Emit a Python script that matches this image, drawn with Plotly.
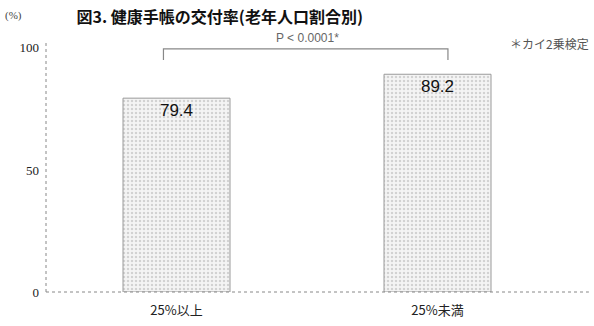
import plotly.graph_objects as go

categories = ["25%以上", "25%未満"]
values = [79.4, 89.2]
y_ticks = [0, 50, 100]
title_text = "図3. 健康手帳の交付率(老年人口割合別)"
p_text = "P < 0.0001*"
note_text = "＊カイ2乗検定"

fig = go.Figure()
fig.add_trace(go.Bar(
    x=categories, y=values,
    marker=dict(color="#f1f1f1",
                pattern=dict(shape=".", fgcolor="#b0b0b0", bgcolor="#f4f4f4", size=4, solidity=0.3),
                line=dict(color="#9a9a9a", width=1)),
    text=[f"{v:.1f}" for v in values],
    textposition="inside", insidetextanchor="end",
    textfont=dict(family="Liberation Sans, Arial", size=17, color="#111"),
    width=0.41,
))

fig.update_layout(
    width=594, height=326,
    margin=dict(l=46, r=26, t=43, b=34),
    paper_bgcolor="white", plot_bgcolor="white",
    showlegend=False,
    title=dict(text="<b>" + title_text + "</b>", x=0.37, xanchor="center", y=0.965, yanchor="top",
               font=dict(family="Noto Sans CJK JP", size=16, color="#111")),
    xaxis=dict(range=[-0.5, 1.5], showline=False, showgrid=False, ticks="", ticklabelstandoff=9,
               automargin=False,
               tickfont=dict(family="Noto Sans CJK JP", size=13, color="#222")),
    yaxis=dict(range=[0, 102], tickvals=y_ticks, showgrid=False, showline=False, zeroline=False,
               ticks="", ticklabelstandoff=6, automargin=False,
               tickfont=dict(family="Liberation Serif, Times New Roman", size=13, color="#222")),
)

# axis lines (dotted)
fig.add_shape(type="line", xref="paper", yref="paper", x0=0, x1=0, y0=0, y1=1,
              line=dict(color="#888", width=1, dash="dot"))
fig.add_shape(type="line", xref="paper", yref="paper", x0=0, x1=1.04, y0=0, y1=0,
              line=dict(color="#888", width=1, dash="dot"))

# significance bracket
fig.add_shape(type="path", xref="x", yref="y",
              path="M -0.05 95 L -0.05 99.6 L 1.04 99.6 L 1.04 95",
              line=dict(color="#888", width=1.2))
fig.add_annotation(x=0.5, xref="x", y=1.02, yref="paper", yanchor="middle", text=p_text, showarrow=False,
                   font=dict(family="Liberation Sans, Arial", size=12, color="#666"))
fig.add_annotation(x=1.045, xref="paper", xanchor="right", y=1.0, yref="paper", yanchor="middle",
                   text=note_text, showarrow=False,
                   font=dict(family="Noto Sans CJK JP", size=12, color="#555"))
fig.add_annotation(x=-0.062, xref="paper", xanchor="center", y=1.11, yref="paper", yanchor="middle",
                   text="(%)", showarrow=False,
                   font=dict(family="Liberation Serif", size=11, color="#444"))

fig.write_html("out.html")
